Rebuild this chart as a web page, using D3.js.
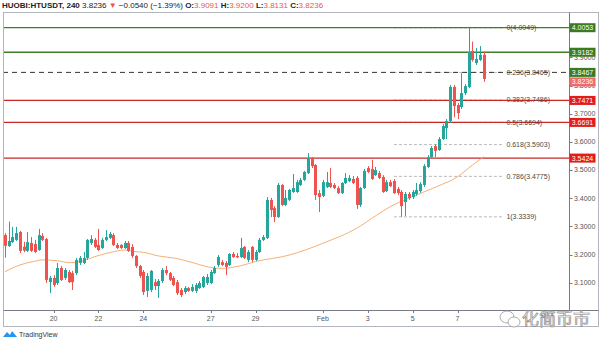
<!DOCTYPE html>
<html><head><meta charset="utf-8">
<script src="https://cdn.jsdelivr.net/npm/d3@7"></script>
<style>html,body{margin:0;padding:0;background:#fff;}svg{display:block;}</style>
</head><body>
<svg id="chart" width="600" height="343"></svg>
<script>
// HUOBI:HTUSDT, 4h bars
const firstBar = Date.UTC(2020, 0, 17, 20);
const barMs = 4 * 3600 * 1000;

const opens = [3.269,3.230,3.244,3.252,3.280,3.228,3.213,3.241,3.237,3.216,3.266,3.255,3.102,3.117,3.099,3.152,3.117,3.138,3.134,3.134,
  3.170,3.170,3.188,3.241,3.252,3.234,3.223,3.252,3.259,3.269,3.234,3.234,3.223,3.241,3.227,3.195,3.159,3.138,3.071,3.074,
  3.102,3.088,3.106,3.145,3.134,3.117,3.102,3.074,3.067,3.081,3.071,3.071,3.081,3.085,3.099,3.099,3.134,3.163,3.173,3.170,
  3.163,3.202,3.195,3.191,3.227,3.181,3.227,3.181,3.209,3.252,3.259,3.394,3.365,3.333,3.447,3.376,3.394,3.422,3.422,3.447,
  3.465,3.489,3.543,3.518,3.418,3.408,3.440,3.454,3.447,3.436,3.418,3.454,3.461,3.468,3.472,3.376,3.436,3.507,3.504,3.482,
  3.489,3.475,3.425,3.457,3.461,3.433,3.422,3.386,3.415,3.404,3.415,3.425,3.447,3.511,3.546,3.585,3.571,3.610,3.649,3.674,
  3.795,3.731,3.724,3.773,3.795,3.923,3.880,3.891,3.9091];
const highs = [3.276,3.317,3.298,3.298,3.284,3.245,3.280,3.262,3.252,3.291,3.276,3.259,3.124,3.127,3.170,3.159,3.152,3.145,3.142,3.188,
  3.195,3.209,3.255,3.269,3.259,3.291,3.259,3.287,3.280,3.276,3.241,3.237,3.248,3.248,3.237,3.198,3.163,3.145,3.134,3.145,
  3.113,3.113,3.152,3.159,3.138,3.124,3.110,3.081,3.088,3.085,3.095,3.099,3.106,3.124,3.131,3.145,3.159,3.198,3.181,3.177,
  3.205,3.209,3.205,3.259,3.230,3.216,3.230,3.216,3.259,3.269,3.404,3.401,3.372,3.454,3.450,3.429,3.433,3.486,3.465,3.472,
  3.497,3.560,3.546,3.521,3.429,3.465,3.493,3.507,3.454,3.443,3.457,3.489,3.482,3.479,3.479,3.440,3.504,3.514,3.536,3.511,
  3.497,3.482,3.465,3.465,3.468,3.440,3.429,3.422,3.422,3.429,3.454,3.457,3.521,3.553,3.585,3.592,3.617,3.663,3.681,3.802,
  3.802,3.738,3.844,3.805,4.0053,3.956,3.933,3.940,3.9200];
const lows = [3.189,3.227,3.241,3.248,3.205,3.208,3.209,3.209,3.205,3.213,3.248,3.099,3.063,3.085,3.092,3.106,3.110,3.099,3.074,3.127,
  3.163,3.166,3.181,3.234,3.223,3.213,3.220,3.248,3.255,3.230,3.220,3.220,3.220,3.209,3.188,3.152,3.117,3.056,3.049,3.067,
  3.074,3.046,3.099,3.127,3.106,3.088,3.056,3.049,3.060,3.067,3.067,3.063,3.078,3.081,3.092,3.095,3.131,3.156,3.159,3.127,
  3.159,3.188,3.188,3.188,3.184,3.173,3.173,3.177,3.205,3.248,3.255,3.333,3.315,3.330,3.372,3.372,3.390,3.419,3.419,3.443,
  3.461,3.486,3.507,3.394,3.351,3.404,3.436,3.436,3.433,3.415,3.415,3.450,3.457,3.450,3.362,3.369,3.433,3.489,3.465,3.479,
  3.468,3.419,3.422,3.440,3.415,3.411,3.334,3.337,3.394,3.397,3.408,3.419,3.440,3.507,3.543,3.546,3.568,3.607,3.610,3.667,
  3.688,3.681,3.717,3.766,3.791,3.885,3.873,3.887,3.8131];
const closes = [3.231,3.248,3.262,3.276,3.213,3.214,3.244,3.213,3.209,3.269,3.252,3.110,3.117,3.092,3.152,3.110,3.145,3.102,3.102,3.181,
  3.188,3.188,3.252,3.255,3.227,3.216,3.252,3.262,3.273,3.234,3.223,3.223,3.241,3.213,3.195,3.159,3.124,3.067,3.124,3.142,
  3.088,3.106,3.145,3.134,3.110,3.092,3.063,3.056,3.081,3.071,3.085,3.092,3.099,3.120,3.120,3.138,3.152,3.191,3.163,3.156,
  3.202,3.191,3.190,3.223,3.188,3.209,3.181,3.209,3.252,3.262,3.394,3.358,3.333,3.447,3.376,3.401,3.429,3.436,3.457,3.465,
  3.493,3.543,3.514,3.411,3.404,3.457,3.457,3.440,3.436,3.418,3.454,3.472,3.472,3.454,3.376,3.436,3.497,3.493,3.468,3.500,
  3.472,3.422,3.457,3.443,3.418,3.418,3.372,3.415,3.401,3.422,3.429,3.450,3.514,3.546,3.578,3.568,3.610,3.656,3.674,3.795,
  3.727,3.702,3.773,3.798,3.919,3.891,3.894,3.909,3.8236];

// moving average, read at selected bars
const maBar = [0,4,7.5,10,14,17.4,20,24.6,29,32,35,37,41,45.5,50,54,57,59,60,63,67,76,85,94,99.4,103,108,115.4,121,125,128];
const maValue = [3.139,3.163,3.175,3.181,3.178,3.171,3.175,3.195,3.210,3.216,3.210,3.208,3.195,3.187,3.172,3.157,3.151,3.151,3.153,3.160,3.175,3.198,3.240,3.293,3.340,3.370,3.400,3.441,3.476,3.518,3.547];

const priceTicks = [3.1,3.2,3.3,3.4,3.5,3.6,3.7,3.8,3.9];
const dayTicks = ["2020-01-20","2020-01-22","2020-01-24","2020-01-27","2020-01-29","2020-02-01","2020-02-03","2020-02-05","2020-02-07"];
const dayTickLabels = ["20","22","24","27","29","Feb","3","5","7"];

// horizontal levels drawn across the chart
const levelPrices = [4.0053, 3.9182, 3.8467, 3.7471, 3.6691, 3.5424];
const levelColors = ["#3f7f2a","#3f7f2a","#333333","#c62828","#c62828","#c62828"];
const levelBoxColors = ["#3b7a22","#3b7a22","#3b7a22","#e21b1b","#e21b1b","#e21b1b"];
const levelDashed = [false,false,true,false,false,false];

// fibonacci retracement
const fibRatios = ["0","0.236","0.382","0.5","0.618","0.786","1"];
const fibPrices = [4.0049,3.8465,3.7486,3.6694,3.5903,3.4775,3.3339];
const fibFromBar = 104, fibToBar = 133;

const lastPrice = 3.8236;

const svg = d3.select("#chart");
const W = 600, H = 343;
const plot = {left: 3, right: 569.5, top: 12, bottom: 310};

const x = d3.scaleLinear().domain([0, 128]).range([5, 483.7]);
const y = d3.scaleLinear().domain([3.1, 3.7]).range([282.7, 113.7]);
const barOf = t => (t - firstBar) / barMs;
const font = "'Liberation Sans', Arial, sans-serif";

svg.append("rect").attr("width", W).attr("height", H).attr("fill", "#fff");

svg.append("defs").append("clipPath").attr("id", "plotclip")
  .append("rect").attr("x", plot.left).attr("y", plot.top)
  .attr("width", plot.right - plot.left).attr("height", plot.bottom - plot.top);

const g = svg.append("g").attr("clip-path", "url(#plotclip)");

// fib lines
g.append("g").selectAll("line").data(fibPrices).join("line")
  .attr("x1", x(fibFromBar)).attr("x2", x(fibToBar))
  .attr("y1", d => y(d)).attr("y2", d => y(d))
  .attr("stroke", "#a8a8a8").attr("stroke-width", 0.8).attr("stroke-dasharray", "3,2");

// levels
g.append("g").selectAll("line").data(levelPrices).join("line")
  .attr("x1", plot.left).attr("x2", plot.right)
  .attr("y1", d => y(d)).attr("y2", d => y(d))
  .attr("stroke", (d, i) => levelColors[i]).attr("stroke-width", (d, i) => levelDashed[i] ? 1 : 1.3)
  .attr("stroke-dasharray", (d, i) => levelDashed[i] ? "5,4" : null);

// fib labels
svg.append("g").selectAll("text").data(fibPrices).join("text")
  .attr("x", x(fibToBar) + 4).attr("y", d => y(d))
  .attr("dy", "0.35em").attr("font-family", font).attr("font-size", 7)
  .attr("fill", "#4a4a4a")
  .text((d, i) => `${fibRatios[i]}(${d.toFixed(4)})`);

// moving average
const maLine = d3.line().x((d, i) => x(maBar[i])).y(d => y(d)).curve(d3.curveMonotoneX);
g.append("path").attr("d", maLine(maValue)).attr("fill", "none")
  .attr("stroke", "#f2a865").attr("stroke-width", 0.9);

// candles
const bars = d3.range(opens.length);
const up = "#26a69a", down = "#ef5350";
const cg = g.append("g");
cg.selectAll("line").data(bars).join("line")
  .attr("x1", i => Math.round(x(i)) + 0.5).attr("x2", i => Math.round(x(i)) + 0.5)
  .attr("y1", i => y(highs[i])).attr("y2", i => y(lows[i]))
  .attr("stroke", i => closes[i] >= opens[i] ? up : down).attr("stroke-width", 1);
cg.selectAll("rect").data(bars).join("rect")
  .attr("x", i => Math.round(x(i)) - 1).attr("width", 3)
  .attr("y", i => y(Math.max(opens[i], closes[i])))
  .attr("height", i => Math.max(1, Math.abs(y(opens[i]) - y(closes[i]))))
  .attr("fill", i => closes[i] >= opens[i] ? up : down);

// frame
svg.append("rect").attr("x", 3.5).attr("y", 12.5).attr("width", 595).attr("height", 314)
  .attr("fill", "none").attr("stroke", "#b2b5be").attr("stroke-width", 1);
svg.append("line").attr("x1", plot.right).attr("x2", plot.right).attr("y1", 12.5).attr("y2", plot.bottom)
  .attr("stroke", "#787b86").attr("stroke-width", 1);
svg.append("line").attr("x1", 3.5).attr("x2", 598.5).attr("y1", plot.bottom + 0.5).attr("y2", plot.bottom + 0.5)
  .attr("stroke", "#787b86").attr("stroke-width", 1);

// price axis
const pa = svg.append("g");
pa.selectAll("text").data(priceTicks).join("text")
  .attr("x", 574).attr("y", d => y(d)).attr("dy", "0.35em")
  .attr("font-family", font).attr("font-size", 7).attr("fill", "#555")
  .text(d => d.toFixed(4));
pa.selectAll("line").data(priceTicks).join("line")
  .attr("x1", plot.right).attr("x2", plot.right + 3)
  .attr("y1", d => Math.round(y(d)) + 0.5).attr("y2", d => Math.round(y(d)) + 0.5)
  .attr("stroke", "#787b86");

// price boxes
const boxes = levelPrices.map((p, i) => ({p, c: levelBoxColors[i], yc: y(p)}));
boxes.push({p: lastPrice, c: "#ef6b6b", yc: y(lastPrice) + 3});
const bg = svg.append("g");
bg.selectAll("rect").data(boxes).join("rect")
  .attr("x", plot.right).attr("y", d => d.yc - 4.5).attr("width", 26).attr("height", 9)
  .attr("fill", d => d.c);
bg.selectAll("text").data(boxes).join("text")
  .attr("x", plot.right + 13).attr("y", d => d.yc).attr("dy", "0.35em")
  .attr("text-anchor", "middle").attr("font-family", font).attr("font-size", 7)
  .attr("fill", "#fff").text(d => d.p.toFixed(4));

// time axis
const ta = svg.append("g");
const tickX = dayTicks.map(s => x(barOf(Date.parse(s + "T00:00:00Z"))));
ta.selectAll("text").data(dayTickLabels).join("text")
  .attr("x", (d, i) => tickX[i]).attr("y", 321).attr("text-anchor", "middle")
  .attr("font-family", font).attr("font-size", 7).attr("fill", "#555").text(d => d);
ta.selectAll("line").data(dayTickLabels).join("line")
  .attr("x1", (d, i) => Math.round(tickX[i]) + 0.5).attr("x2", (d, i) => Math.round(tickX[i]) + 0.5)
  .attr("y1", plot.bottom).attr("y2", plot.bottom + 3).attr("stroke", "#787b86");

// header
const hd = svg.append("text").attr("x", 2).attr("y", 7.8)
  .attr("font-family", font).attr("font-size", 8).attr("fill", "#222");
hd.append("tspan").attr("font-weight", "bold").text("HUOBI:HTUSDT, 240 ");
hd.append("tspan").text("3.8236 ");
hd.append("tspan").attr("fill", "#ef5350").text("\u25BC ");
hd.append("tspan").text("\u22120.0540 (\u22121.39%) ");
[["O", "3.9091"], ["H", "3.9200"], ["L", "3.8131"], ["C", "3.8236"]].forEach(([k, v]) => {
  hd.append("tspan").attr("font-weight", "bold").text(k + ":");
  hd.append("tspan").attr("fill", "#ef5350").text(v + " ");
});

// TradingView mark
const tv = svg.append("g").attr("transform", "translate(3,329)");
tv.append("path").attr("d", "M0,8 L4,3 L7,6 L9,2 L14,8 Z").attr("fill", "#2196f3");
tv.append("text").attr("x", 16).attr("y", 7.5).attr("font-family", font).attr("font-size", 7)
  .attr("fill", "#333").text("TradingView");

// channel watermark
const wm = svg.append("g").attr("transform", "translate(500,318)");
wm.append("ellipse").attr("cx", 7).attr("cy", -1).attr("rx", 7).attr("ry", 6)
  .attr("fill", "#fff").attr("stroke", "#999").attr("stroke-width", 0.8);
wm.append("ellipse").attr("cx", 14).attr("cy", 4).attr("rx", 6).attr("ry", 5)
  .attr("fill", "#fff").attr("stroke", "#999").attr("stroke-width", 0.8);
wm.append("text").attr("x", 22).attr("y", 7).attr("font-family", "'Noto Sans CJK SC', sans-serif")
  .attr("font-size", 17).attr("fill", "#fff").attr("stroke", "#888").attr("stroke-width", 0.7)
  .text("化简币市");
</script>
</body></html>
